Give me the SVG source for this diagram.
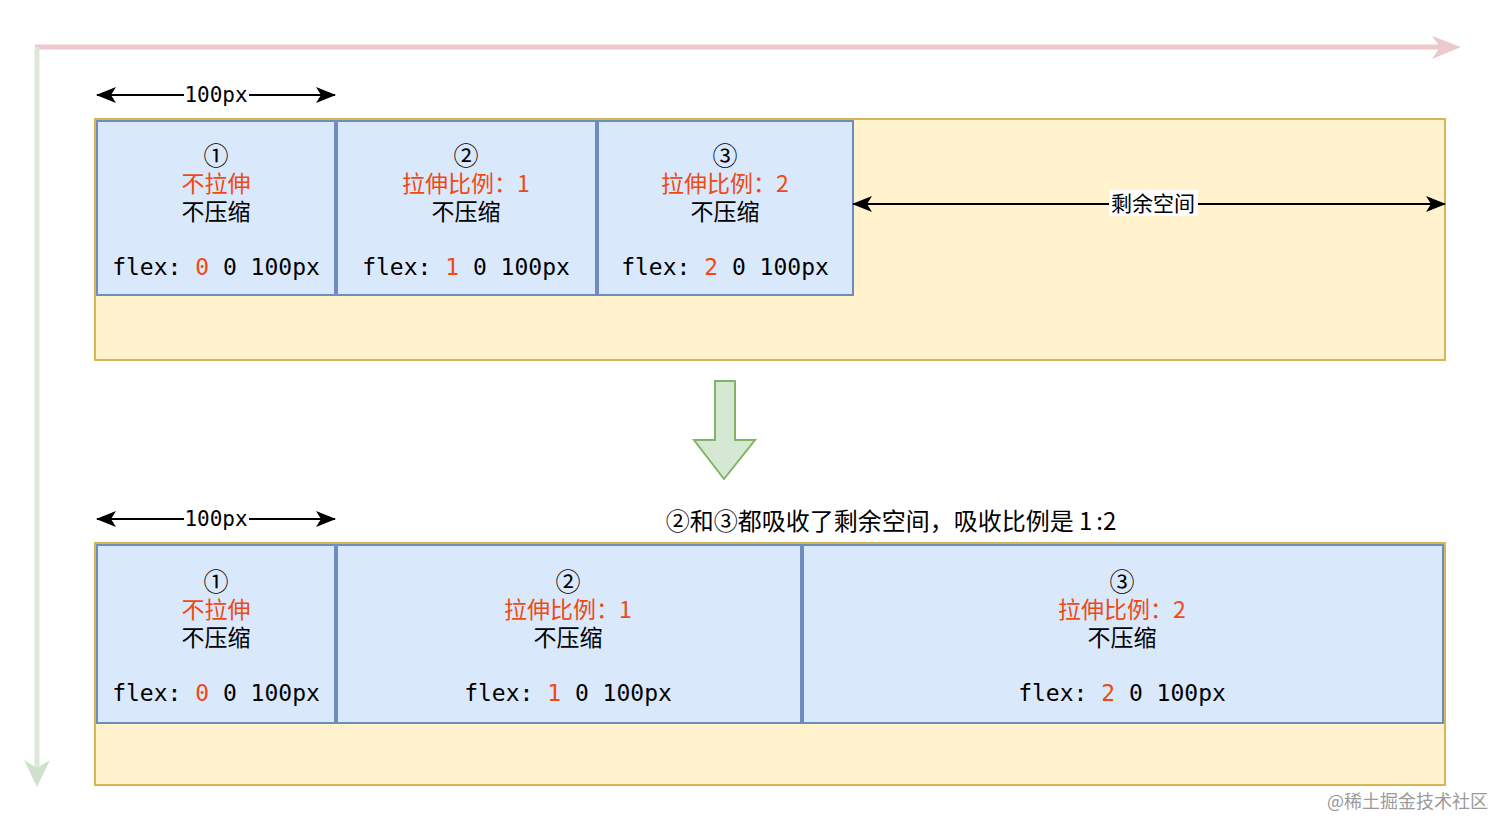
<svg xmlns="http://www.w3.org/2000/svg" width="1512" height="835" viewBox="0 0 1512 835">
<style>
.cont{fill:#fff2cc;stroke:#d6b656;stroke-width:2}
.box{fill:#dae8fc;stroke:#6c8ebf;stroke-width:2}
.cjk{font-family:"Noto Sans CJK SC","Noto Sans",sans-serif;font-size:23px;text-anchor:middle;fill:#000}
.num{font-size:25px}
.red{fill:#f04a12}
.mono{font-family:"DejaVu Sans Mono","Liberation Mono",monospace;font-size:23px;text-anchor:middle;fill:#000}
.dim{font-family:"DejaVu Sans Mono","Liberation Mono",monospace;font-size:21px;text-anchor:middle;fill:#000}
.ln{stroke:#000;stroke-width:2;fill:none}
</style>
<defs>
<marker id="ah" viewBox="0 0 20 16" refX="19" refY="8" markerWidth="20" markerHeight="16" markerUnits="userSpaceOnUse" orient="auto-start-reverse">
<path d="M0,0 L20,8 L0,16 L5,8 Z" fill="#000"/>
</marker>
</defs>
<rect width="1512" height="835" fill="#ffffff"/>
<g id="axes">
<line x1="35" y1="47" x2="1445" y2="47" stroke="#ecc9cd" stroke-width="5"/>
<path d="M1432,36 L1461,47 L1432,59 L1440,47 Z" fill="#ecc9cd"/>
<line x1="37" y1="47" x2="37" y2="775" stroke="#dde8d8" stroke-width="5"/>
<path d="M24,760 L37,787 L50,760 L37,768 Z" fill="#cfe3cc"/>
</g>
<g id="top-container"><rect class="cont" x="95" y="119" width="1350" height="241"/></g>
<g id="top-box1">
<rect class="box" x="97" y="121" width="238" height="174"/>
<text class="cjk num" x="216" y="165">①</text>
<text class="cjk red" x="216" y="192">不拉伸</text>
<text class="cjk" x="216" y="220">不压缩</text>
<text class="mono" x="216" y="275">flex: <tspan class="red">0</tspan> 0 100px</text>
</g>
<g id="top-box2">
<rect class="box" x="337" y="121" width="259" height="174"/>
<text class="cjk num" x="466" y="165">②</text>
<text class="cjk red" x="466" y="192">拉伸比例：1</text>
<text class="cjk" x="466" y="220">不压缩</text>
<text class="mono" x="466" y="275">flex: <tspan class="red">1</tspan> 0 100px</text>
</g>
<g id="top-box3">
<rect class="box" x="598" y="121" width="255" height="174"/>
<text class="cjk num" x="725" y="165">③</text>
<text class="cjk red" x="725" y="192">拉伸比例：2</text>
<text class="cjk" x="725" y="220">不压缩</text>
<text class="mono" x="725" y="275">flex: <tspan class="red">2</tspan> 0 100px</text>
</g>
<g id="down-arrow">
<path d="M715,381 L735,381 L735,440 L755,440 L724,479 L694,440 L715,440 Z" fill="#d5e8d4" stroke="#82b366" stroke-width="2"/>
</g>
<g id="caption">
<text class="cjk" x="891" y="530" style="font-size:24px">②和③都吸收了剩余空间，吸收比例是 1<tspan dx="4">:</tspan>2</text>
</g>
<g id="bottom-container"><rect class="cont" x="95" y="543" width="1350" height="242"/></g>
<g id="bot-box1">
<rect class="box" x="97" y="545" width="238" height="178"/>
<text class="cjk num" x="216" y="591">①</text>
<text class="cjk red" x="216" y="618">不拉伸</text>
<text class="cjk" x="216" y="646">不压缩</text>
<text class="mono" x="216" y="701">flex: <tspan class="red">0</tspan> 0 100px</text>
</g>
<g id="bot-box2">
<rect class="box" x="337" y="545" width="464" height="178"/>
<text class="cjk num" x="568" y="591">②</text>
<text class="cjk red" x="568" y="618">拉伸比例：1</text>
<text class="cjk" x="568" y="646">不压缩</text>
<text class="mono" x="568" y="701">flex: <tspan class="red">1</tspan> 0 100px</text>
</g>
<g id="bot-box3">
<rect class="box" x="803" y="545" width="640" height="178"/>
<text class="cjk num" x="1122" y="591">③</text>
<text class="cjk red" x="1122" y="618">拉伸比例：2</text>
<text class="cjk" x="1122" y="646">不压缩</text>
<text class="mono" x="1122" y="701">flex: <tspan class="red">2</tspan> 0 100px</text>
</g>
<g id="connectors">
<line class="ln" x1="97" y1="95" x2="184" y2="95" marker-start="url(#ah)"/>
<line class="ln" x1="249" y1="95" x2="335" y2="95" marker-end="url(#ah)"/>
<text class="dim" x="216" y="102">100px</text>
<line class="ln" x1="97" y1="519" x2="184" y2="519" marker-start="url(#ah)"/>
<line class="ln" x1="249" y1="519" x2="335" y2="519" marker-end="url(#ah)"/>
<text class="dim" x="216" y="526">100px</text>
<line class="ln" x1="853" y1="204" x2="1109" y2="204" marker-start="url(#ah)"/>
<line class="ln" x1="1198" y1="204" x2="1445" y2="204" marker-end="url(#ah)"/>
<rect x="1109" y="190" width="89" height="26" fill="#ffffff"/>
<text class="cjk" x="1153" y="211" style="font-size:21px">剩余空间</text>
</g>
<text x="1488" y="808" style="font-family:'Noto Sans CJK SC','Noto Sans',sans-serif;font-size:18px;text-anchor:end;fill:#9a9a9a">@稀土掘金技术社区</text>
</svg>
